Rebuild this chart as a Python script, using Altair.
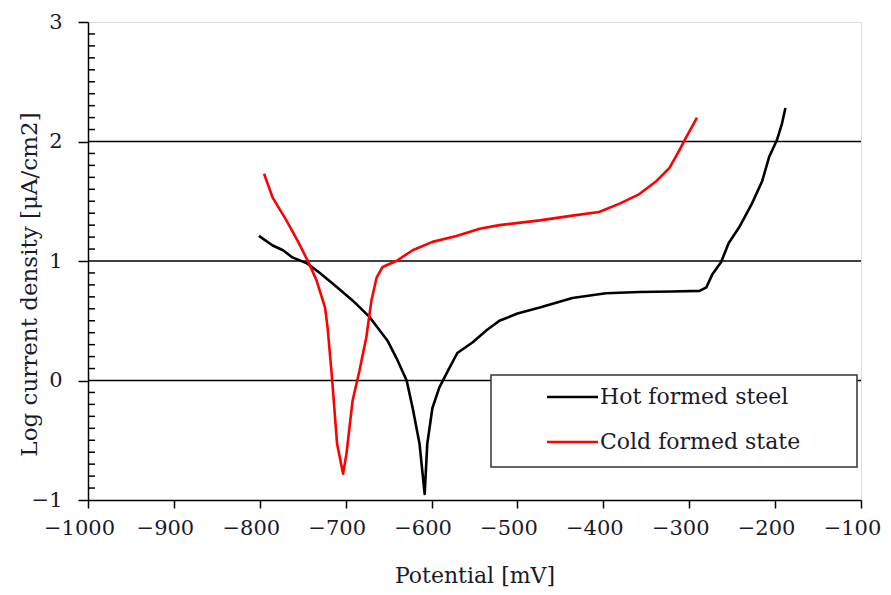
import altair as alt
import pandas as pd

series_names = ["Hot formed steel", "Cold formed state"]
series_colors = ["#000000", "#ff0000"]

hot_x = [-801, -785, -773, -762, -745, -730, -710, -692, -672, -651, -641, -629, -622, -614, -608,
         -605, -599, -591, -581, -570, -552, -536, -521, -500, -474, -436, -397, -358, -320, -288,
         -280, -273, -263, -254, -242, -227, -215, -207, -198, -192, -188]
hot_y = [1.21, 1.13, 1.09, 1.03, 0.98, 0.90, 0.78, 0.67, 0.53, 0.33, 0.19, 0.0, -0.23, -0.53, -0.95,
         -0.53, -0.23, -0.06, 0.08, 0.23, 0.32, 0.42, 0.50, 0.56, 0.61, 0.69, 0.73, 0.74, 0.745, 0.75,
         0.78, 0.89, 0.99, 1.15, 1.28, 1.48, 1.67, 1.87, 2.01, 2.15, 2.28]

cold_x = [-795, -785, -769, -756, -744, -734, -724, -721, -716, -710, -703, -699, -692, -684, -676,
          -670, -664, -657, -641, -622, -599, -571, -544, -521, -474, -436, -405, -381, -358, -338,
          -323, -312, -304, -297, -291]
cold_y = [1.73, 1.53, 1.34, 1.17, 1.00, 0.84, 0.61, 0.44, 0.03, -0.53, -0.78, -0.61, -0.17, 0.08, 0.36,
          0.67, 0.86, 0.95, 1.00, 1.09, 1.16, 1.21, 1.27, 1.30, 1.34, 1.38, 1.41, 1.48, 1.56, 1.67,
          1.78, 1.92, 2.03, 2.12, 2.20]

x_ticks = [-1000, -900, -800, -700, -600, -500, -400, -300, -200, -100]
y_ticks = [-1, 0, 1, 2, 3]
grid_values = [0, 1, 2]
minor_y = [round(-1 + i * 0.1, 1) for i in range(1, 40) if i % 10 != 0]

FONT = "DejaVu Serif"
FS = 21
W, H = 773, 478

rows = []
for i, (x, y) in enumerate(zip(hot_x, hot_y)):
    rows.append({"series": series_names[0], "x": x, "y": y, "idx": i})
for i, (x, y) in enumerate(zip(cold_x, cold_y)):
    rows.append({"series": series_names[1], "x": x, "y": y, "idx": i})
df = pd.DataFrame(rows)

xscale = alt.Scale(domain=[-1000, -100], nice=False, zero=False)
yscale = alt.Scale(domain=[-1, 3], nice=False, zero=False)

xaxis = alt.Axis(values=x_ticks, format="d", title="Potential [mV]", grid=False, domainColor="#000",
                 domainWidth=1.5, tickColor="#000", tickWidth=1.5, tickSize=8,
                 labelFont=FONT, labelFontSize=FS, labelColor="#1a1a2a", labelPadding=9, labelOffset=-9,
                 titleFont=FONT, titleFontSize=22, titleFontWeight="normal", titleColor="#1a1a2a",
                 titlePadding=27, labelFlush=False)
yaxis = alt.Axis(values=y_ticks, format="d", title="Log current density [μA/cm2]", grid=False,
                 domainColor="#000", domainWidth=1.5, tickColor="#000", tickWidth=1.5, tickSize=10,
                 labelFont=FONT, labelFontSize=FS, labelColor="#1a1a2a", labelPadding=16,
                 titleFont=FONT, titleFontSize=23, titleFontWeight="normal", titleColor="#1a1a2a",
                 titleX=-47, titleY=262, labelFlush=False)

grid = alt.Chart(pd.DataFrame({"g": grid_values})).mark_rule(color="#000", strokeWidth=1.5).encode(
    y=alt.Y("g:Q", scale=yscale, axis=yaxis)
)

minor = alt.Chart(pd.DataFrame({"m": minor_y})).mark_rule(color="#000", strokeWidth=1.5).encode(
    y=alt.Y("m:Q", scale=yscale), x=alt.value(0), x2=alt.value(7)
)

lines = alt.Chart(df).mark_line(strokeWidth=2.6, strokeJoin="round").encode(
    x=alt.X("x:Q", scale=xscale, axis=xaxis),
    y=alt.Y("y:Q", scale=yscale),
    color=alt.Color("series:N", scale=alt.Scale(domain=series_names, range=series_colors), legend=None),
    order="idx:Q",
)

# legend box (drawn manually)
lx0, ly0, lx1, ly1 = 403, 353, 769, 445
box = alt.Chart(pd.DataFrame({"a": [0]})).mark_rect(fill="white", stroke="#333", strokeWidth=1.5).encode(
    x=alt.value(lx0), x2=alt.value(lx1), y=alt.value(ly0), y2=alt.value(ly1)
)
leg_df = pd.DataFrame({"series": series_names, "ypix": [375, 420]})
leg_lines = alt.Chart(leg_df).mark_rule(strokeWidth=2.6).encode(
    x=alt.value(459), x2=alt.value(510), y=alt.Y("ypix:Q", scale=None),
    color=alt.Color("series:N", scale=alt.Scale(domain=series_names, range=series_colors), legend=None),
)
leg_text = alt.Chart(leg_df).mark_text(align="left", baseline="middle", font=FONT, fontSize=22,
                                       color="#1a1a2a").encode(
    x=alt.value(512), y=alt.Y("ypix:Q", scale=None), text="series:N"
)

chart = alt.layer(grid, minor, lines, box, leg_lines, leg_text).properties(
    width=W, height=H,
    autosize=alt.AutoSizeParams(type="none"),
    padding={"left": 88, "top": 22, "right": 30, "bottom": 95},
).configure_view(stroke="#999", strokeWidth=1.5).configure(background="white")

chart.save("out.html", embed_options={"renderer": "svg", "actions": False})
